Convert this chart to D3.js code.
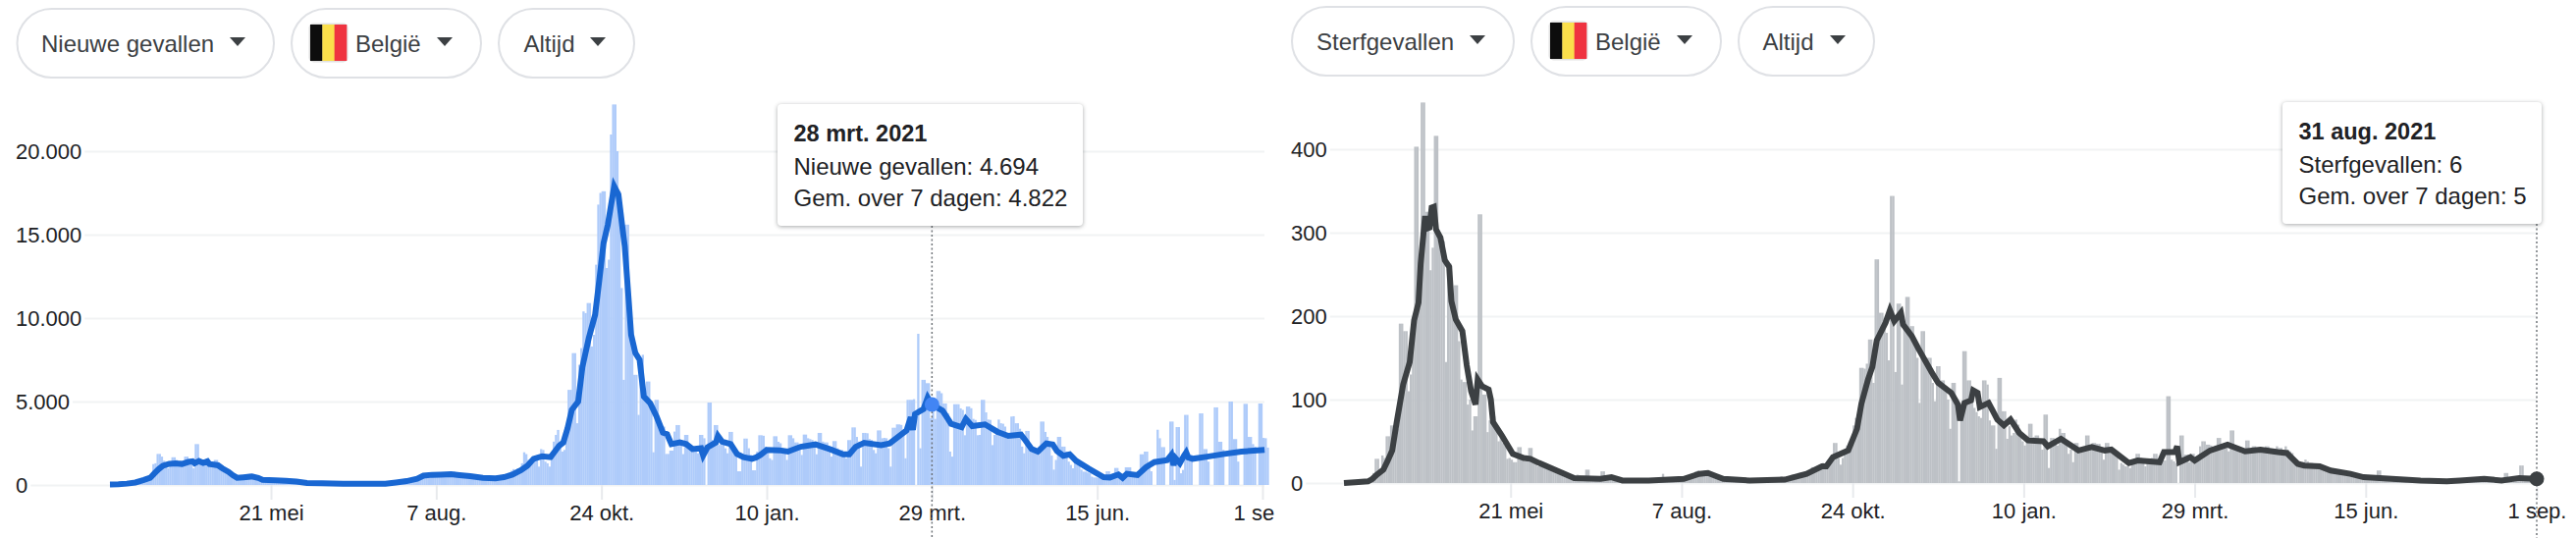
<!DOCTYPE html>
<html>
<head>
<meta charset="utf-8">
<title>COVID-19 België</title>
<script src="https://cdnjs.cloudflare.com/ajax/libs/d3/7.8.5/d3.min.js"></script>
<style>
html, body { margin: 0; padding: 0; background: #fff; overflow: hidden; }
text { font-family: "Liberation Sans", Arial, sans-serif; }
</style>
</head>
<body>
<svg id="chart" width="2624" height="548"></svg>
<script>
// x axis, day 0 is 6 march 2020, one row of bars = 10 days
var tickDays = [76, 154, 232, 310, 388, 466, 544];
var tickLabels = ["21 mei", "7 aug.", "24 okt.", "10 jan.", "29 mrt.", "15 jun.", "1 sep."];

var caseTicks = [0, 5000, 10000, 15000, 20000];
var caseTickLabels = ["0", "5.000", "10.000", "15.000", "20.000"];
var deathTicks = [0, 100, 200, 300, 400];
var deathTickLabels = ["0", "100", "200", "300", "400"];

var caseBars = [
  20,30,30,40,40,50,60,70,90,110,
  130,170,210,250,300,350,380,420,480,560,
  1250,1300,1860,1860,1700,1450,1100,1000,1250,1660,
  1660,1500,1300,1450,1450,1700,1700,1550,1500,1000,
  2450,2450,1400,1300,1300,1550,1400,1300,1100,1500,
  1500,1250,1100,1000,820,900,850,750,600,450,
  480,500,520,550,500,480,500,520,500,440,
  380,350,320,300,300,280,280,270,260,250,
  280,260,240,230,220,200,210,190,170,160,
  150,170,150,130,130,120,110,120,140,130,
  110,100,90,80,100,110,90,80,70,70,
  80,90,90,80,70,60,70,80,100,90,
  70,60,70,80,80,70,60,60,70,90,
  90,90,110,130,150,160,150,180,200,220,
  230,250,300,350,420,500,560,600,640,650,
  620,640,660,620,650,700,680,700,720,670,
  640,700,800,740,650,600,580,560,640,620,
  560,520,480,460,450,520,500,420,400,380,
  400,450,500,480,450,520,540,600,720,850,
  950,900,1000,850,1300,1960,1850,1500,1450,1300,
  1700,1750,1100,2150,2100,1400,1300,1100,1500,2600,
  3000,3300,2300,2000,2100,2900,5700,5700,7900,7900,
  3700,7200,8200,10400,10300,10900,10900,8300,9000,13200,
  16800,17500,17600,17600,13000,13500,21000,22800,22800,20000,
  17600,11800,6300,15600,15600,9000,9000,6600,6600,4200,
  7500,7800,5800,6200,6200,4900,1960,5100,5100,3500,
  3500,3500,1860,1860,2060,2060,3200,3590,3590,2700,
  1850,3000,3000,2200,2100,2100,2000,1900,3000,3000,
  2800,0,4940,4940,2700,3590,3590,2400,2550,2550,
  2200,1900,3180,3180,2300,2000,820,820,1800,2780,
  2780,2200,1800,880,880,2000,2980,2980,2950,2300,
  2100,1600,1500,2920,2920,2590,2500,2200,2000,1500,
  2980,2980,2800,2550,2550,2400,1800,3020,3020,2800,
  2750,2700,2300,1840,3120,3120,2600,2550,2550,2200,
  1700,2630,2630,2200,2100,2100,1900,1600,2690,2690,
  3450,3450,2880,2600,1100,3120,3120,3100,2750,2700,
  2100,1900,3270,3270,2800,2820,2800,2200,1100,3430,
  3430,3630,3630,3600,3000,1600,5100,5100,5100,5140,
  0,9060,2200,6300,6300,6100,6100,4000,4694,3960,
  5630,5630,5500,4880,4880,4300,2000,1700,4840,4840,
  4840,4590,4500,2980,4700,4700,4600,3960,3900,2980,
  3000,5100,5100,4350,3920,3900,2390,3000,3100,3920,
  3700,3670,3500,2800,2780,4100,4120,3700,3700,3370,
  2300,1900,3240,3240,2200,2000,2000,2000,1800,3800,
  3800,3180,2880,2400,1760,920,1500,2880,2880,2300,
  2300,2000,1400,1200,1000,1550,1550,1300,920,800,
  800,750,700,500,450,450,430,400,350,400,
  820,820,650,550,1020,1020,700,530,400,1060,
  1060,1060,700,600,500,600,1840,1840,2000,2000,
  1000,820,0,0,3310,2800,2270,2270,0,0,
  3800,3800,300,3470,3470,700,900,4200,4200,1600,
  1800,0,0,0,4290,4290,2150,2150,1400,0,
  0,4650,4650,2590,2590,2100,0,0,5000,5000,
  2750,2750,1400,0,0,4860,4860,2880,2880,2450,
  2300,0,4880,4880,2820,2800,2240
];

// 7 day average, read at the days where the line bends
var caseAvgDays = [0,4,8,12,16,19,21,23,25,28,31,34,37,39,40,42,44,46,47,49,51,53,56,58,60,63,67,70,72,78,83,88,93,100,110,120,130,135,140,145,148,152,156,161,165,170,176,182,186,190,194,197,200,204,208,212,214,216,218,221,223,226,229,231,233,235,238,240,242,243,245,246,248,250,252,255,258,261,263,265,269,272,275,279,280,282,286,287,289,293,296,299,303,305,307,310,316,320,326,333,340,346,349,352,356,364,368,373,376,378,379,380,384,386,388,393,395,397,402,404,407,413,419,424,430,432,435,438,442,445,447,450,453,456,462,469,472,476,478,480,485,489,493,499,501,502,503,505,507,508,509,511,518,526,534,545];
var caseAvgValues = [30,40,80,150,300,430,700,950,1150,1270,1300,1260,1380,1420,1300,1430,1320,1420,1250,1220,1180,1000,780,580,430,460,510,420,310,280,250,200,120,100,70,80,70,150,230,370,560,610,620,640,590,530,430,400,470,620,880,1150,1570,1725,1670,2350,2550,3400,4500,5000,7060,8800,10200,12300,14500,15600,17900,17400,15300,14300,10800,9000,7900,7500,5300,4900,4100,3140,3040,2450,2550,2450,2150,2200,1770,2250,2550,2940,2590,2450,1860,1670,1570,1650,1800,2100,2080,2000,2290,2430,2140,1840,1840,2290,2530,2390,2490,2980,3270,4060,3300,4250,4550,5240,4822,4450,4060,3670,3470,3960,3530,3630,3180,2940,3020,2690,2160,2000,2490,2430,2040,1750,1840,1450,980,470,450,630,430,670,590,1060,1370,1490,1800,1180,1600,1310,1760,1950,1650,1570,1700,1860,2000,2100];

var deathBars = [
  1,0,1,1,0,1,2,1,1,3,
  4,3,8,12,29,29,14,33,30,56,
  56,69,69,60,65,191,191,182,182,110,
  130,170,403,403,210,456,456,325,325,255,
  282,416,416,298,296,290,145,263,263,220,
  237,237,170,124,121,121,94,100,63,80,
  80,322,322,106,106,61,75,80,80,70,
  50,56,48,45,29,30,28,25,25,43,
  43,30,26,28,42,42,26,24,20,22,
  22,18,18,17,16,15,14,15,12,12,
  10,10,9,8,8,7,10,9,8,8,
  16,16,5,5,4,5,6,14,14,5,
  6,5,4,3,4,3,3,2,3,2,
  3,3,2,3,3,4,3,4,5,3,
  4,3,4,5,6,11,5,4,3,4,
  5,4,5,4,5,6,6,8,7,6,
  14,15,12,14,15,14,12,9,8,7,
  6,6,5,4,4,3,4,3,4,3,
  3,2,3,3,2,3,3,4,3,3,
  4,3,3,4,3,4,4,5,6,8,
  7,6,6,8,10,10,9,12,13,13,
  14,13,15,19,17,16,20,22,24,22,
  26,28,30,48,48,30,22,30,36,45,
  49,50,69,78,75,138,138,137,143,172,
  172,120,268,268,204,204,198,180,147,344,
  344,133,215,215,118,190,223,223,188,188,
  170,150,96,182,182,150,150,150,120,98,
  140,140,123,123,110,100,65,120,120,90,
  2,80,158,158,123,123,100,90,85,80,
  78,123,123,118,75,69,69,41,126,126,
  86,86,53,68,57,60,76,70,55,50,
  45,50,71,71,55,57,57,48,40,82,
  82,18,54,54,50,45,65,60,60,50,
  35,40,25,48,48,40,38,42,57,57,
  45,48,48,47,47,42,28,48,48,40,
  36,33,33,16,24,22,20,20,18,24,
  26,35,35,30,26,20,26,28,30,35,
  35,28,26,27,27,104,104,28,26,24,
  0,57,57,34,34,25,35,35,28,30,
  44,50,50,46,46,45,40,45,54,54,
  43,43,42,38,63,63,43,43,38,36,
  36,51,51,40,44,44,40,38,40,40,
  44,44,38,36,38,44,42,42,40,44,
  40,38,36,30,28,24,22,25,28,26,
  24,24,22,22,20,20,18,16,17,15,
  15,14,13,13,12,11,12,10,11,10,
  10,9,8,8,9,8,9,9,8,7,
  8,15,15,8,6,7,6,5,6,5,
  6,6,5,5,4,4,4,3,3,4,
  3,3,3,2,2,3,2,2,2,1,
  2,1,2,2,1,2,3,4,5,5,
  4,5,5,6,4,5,5,6,6,5,
  5,6,6,5,5,6,5,4,5,12,
  12,6,5,5,6,6,21,21,8,7,
  7,6,6,6
];

var deathAvgDays = [0,5,11,13,15,18,20,22,24,27,30,32,34,35,37,38,39,40,41,42,44,46,48,49,51,54,56,58,60,61,63,66,67,68,72,77,82,85,89,97,105,117,122,127,139,155,162,166,170,173,185,201,211,218,220,223,230,234,236,239,241,243,247,249,251,254,255,259,262,268,271,277,280,281,283,286,287,289,290,294,298,301,304,308,312,319,321,327,335,341,347,350,358,362,372,374,379,380,381,386,388,395,403,411,418,426,430,435,438,445,450,459,465,478,491,503,509,520,528,536,544];
var deathAvgValues = [0,1,2,5,10,16,27,39,72,118,145,195,216,263,320,305,306,330,331,304,294,267,259,218,196,182,141,110,94,124,116,112,100,73,57,35,30,29,24,15,6,5,7,3,3,5,11,12,8,5,3,4,11,20,20,31,39,65,95,124,139,171,192,207,194,204,190,176,161,133,120,108,94,75,96,99,111,108,91,96,76,69,76,60,51,50,44,53,39,43,39,40,24,27,25,37,37,44,25,31,27,39,46,38,40,37,36,23,21,20,15,11,7,5,3,2,3,5,3,6,5];

var caseFilters = ["Nieuwe gevallen", "België", "Altijd"];
var deathFilters = ["Sterfgevallen", "België", "Altijd"];
var caseTooltip = ["28 mrt. 2021", "Nieuwe gevallen: 4.694", "Gem. over 7 dagen: 4.822"];
var deathTooltip = ["31 aug. 2021", "Sterfgevallen: 6", "Gem. over 7 dagen: 5"];

var svg = d3.select("#chart");

svg.append("defs").append("clipPath").attr("id", "leftClip")
    .append("rect").attr("x", 0).attr("y", 0).attr("width", 1298).attr("height", 548);

// filter chips above a chart
function drawChips(labels, chips, midY) {
    chips.forEach(function(c, i) {
        var g = svg.append("g");
        g.append("rect")
            .attr("x", c.x0).attr("y", midY - 35)
            .attr("width", c.x1 - c.x0).attr("height", 70)
            .attr("rx", 35)
            .attr("fill", "#fff").attr("stroke", "#dfe1e5").attr("stroke-width", 2);
        if (c.flag !== undefined) {
            var w = 37, colors = ["#0d0d0d", "#fbdf4b", "#ef3340"];
            g.append("rect").attr("x", c.flag - 1.5).attr("y", midY - 20.5).attr("width", w + 3).attr("height", 40)
                .attr("rx", 5).attr("fill", "#e2e2e2");
            colors.forEach(function(col, k) {
                g.append("rect").attr("x", c.flag + k * w / 3).attr("y", midY - 19)
                    .attr("width", w / 3 + 0.3).attr("height", 37).attr("fill", col);
            });
        }
        g.append("text").attr("x", c.text).attr("y", midY + 8.5)
            .attr("font-size", 24).attr("fill", "#3c4043").text(labels[i]);
        g.append("path")
            .attr("d", "M" + (c.arrow - 8) + "," + (midY - 6) + "h16l-8,9z")
            .attr("fill", "#3c4043");
    });
}

function drawPanel(p) {
    var x = d3.scaleLinear().domain([0, 544]).range(p.xRange);
    var y = d3.scaleLinear().domain([0, p.yTicks[p.yTicks.length - 1]]).range(p.yRange);
    var band = x(1) - x(0);
    var g = svg.append("g");

    // y axis: labels on the left, light grid lines running across
    var yAxis = g.append("g")
        .attr("transform", "translate(" + p.labelX + ",0)")
        .call(d3.axisLeft(y).tickValues(p.yTicks).tickSize(0)
            .tickFormat(function(d, i) { return p.yTickLabels[i]; }));
    yAxis.select(".domain").remove();
    yAxis.selectAll("text")
        .attr("x", 0).attr("dy", "0.35em")
        .attr("text-anchor", "start")
        .attr("font-size", 22).attr("font-family", null).attr("fill", "#202124");
    yAxis.selectAll(".tick").each(function() {
        var t = d3.select(this);
        var w = t.select("text").node().getComputedTextLength();
        t.select("line")
            .attr("x1", w + 3).attr("x2", p.gridEnd - p.labelX)
            .attr("stroke", "#f1f3f4").attr("stroke-width", 2);
    });

    // bars, one per day
    g.append("g").selectAll("rect").data(p.bars).enter().append("rect")
        .attr("x", function(d, i) { return x(i); })
        .attr("y", function(d) { return y(d); })
        .attr("width", band + 0.15)
        .attr("height", function(d) { return y(0) - y(d); })
        .attr("fill", p.barColor);

    // x axis
    var xAxis = g.append("g")
        .attr("transform", "translate(0," + y(0) + ")")
        .attr("clip-path", p.clip ? "url(#" + p.clip + ")" : null)
        .call(d3.axisBottom(x).tickValues(tickDays).tickSize(15).tickPadding(5)
            .tickFormat(function(d, i) { return tickLabels[i]; }));
    xAxis.select(".domain").remove();
    xAxis.selectAll("line").attr("stroke", "#e8eaed").attr("stroke-width", 2);
    xAxis.selectAll("text")
        .attr("font-size", 22).attr("font-family", null).attr("fill", "#202124");

    // hover line behind the average
    g.append("line")
        .attr("x1", x(p.hoverDay)).attr("x2", x(p.hoverDay))
        .attr("y1", p.tip.y1).attr("y2", 548)
        .attr("stroke", "#70757a").attr("stroke-width", 1.5).attr("stroke-dasharray", "2 2.5");

    var line = d3.line()
        .x(function(d) { return x(d[0]); })
        .y(function(d) { return y(d[1]); });
    g.append("path")
        .datum(d3.zip(p.avgDays, p.avgValues))
        .attr("d", line)
        .attr("fill", "none")
        .attr("stroke", p.lineColor)
        .attr("stroke-width", 6)
        .attr("stroke-linejoin", "miter");

    g.append("circle")
        .attr("cx", x(p.hoverDay)).attr("cy", y(p.hoverValue))
        .attr("r", 7.5).attr("fill", p.dotColor);

    // tooltip
    var tip = g.append("g");
    tip.append("rect")
        .attr("x", p.tip.x0).attr("y", p.tip.y0)
        .attr("width", p.tip.x1 - p.tip.x0).attr("height", p.tip.y1 - p.tip.y0)
        .attr("rx", 4).attr("fill", "#fff")
        .style("filter", "drop-shadow(0 1px 2px rgba(60,64,67,.45))");
    p.tipLines.forEach(function(s, i) {
        tip.append("text")
            .attr("x", p.tip.x0 + 16.5).attr("y", p.tip.base[i])
            .attr("font-size", i == 0 ? 23.5 : 24)
            .attr("font-weight", i == 0 ? "bold" : "normal")
            .attr("fill", "#202124")
            .text(s);
    });
}

drawChips(caseFilters, [
    {x0: 17.5, x1: 279, text: 42, arrow: 242},
    {x0: 297, x1: 490, text: 362, arrow: 453, flag: 316},
    {x0: 508, x1: 646, text: 533.5, arrow: 609}
], 44);

drawChips(deathFilters, [
    {x0: 1316, x1: 1542, text: 1341, arrow: 1505},
    {x0: 1560, x1: 1753, text: 1625, arrow: 1716, flag: 1579},
    {x0: 1771, x1: 1909, text: 1795.5, arrow: 1872}
], 42);

drawPanel({
    xRange: [112, 1286], yRange: [494, 154],
    yTicks: caseTicks, yTickLabels: caseTickLabels,
    labelX: 16, gridEnd: 1288,
    bars: caseBars, barColor: "#aecbfa",
    avgDays: caseAvgDays, avgValues: caseAvgValues, lineColor: "#1967d2",
    hoverDay: 388, hoverValue: 4822, dotColor: "#4285f4",
    clip: "leftClip",
    tip: {x0: 792, x1: 1103, y0: 106, y1: 230, base: [144, 178, 210]},
    tipLines: caseTooltip
});

drawPanel({
    xRange: [1369, 2584], yRange: [492, 152],
    yTicks: deathTicks, yTickLabels: deathTickLabels,
    labelX: 1315, gridEnd: 2584,
    bars: deathBars, barColor: "#bdc1c6",
    avgDays: deathAvgDays, avgValues: deathAvgValues, lineColor: "#3c4043",
    hoverDay: 544, hoverValue: 5, dotColor: "#3c4043",
    tip: {x0: 2325, x1: 2589, y0: 104, y1: 228, base: [142, 176, 208]},
    tipLines: deathTooltip
});
</script>
</body>
</html>
